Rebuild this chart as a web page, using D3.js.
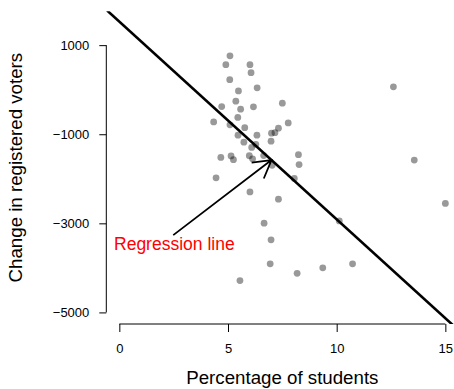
<!DOCTYPE html>
<meta charset="utf-8">

<!-- Load d3.js -->
<script src="https://d3js.org/d3.v7.min.js"></script>

<style>
  body { margin: 0; background: #fff; }
  text { font-family: "Liberation Sans", Arial, Helvetica, sans-serif; }
</style>

<!-- Create a div where the graph will take place -->
<div id="my_dataviz"></div>
<script>

// data: percentage of students vs change in registered voters
var students = [5.09, 4.90, 6.01, 6.06, 5.08, 5.48, 6.34, 5.36, 4.71, 5.58,
                6.17, 7.50, 5.45, 4.34, 5.09, 5.77, 7.77, 7.32, 7.00, 7.16,
                5.46, 6.33, 6.98, 5.73, 6.28, 6.09, 4.67, 5.14, 5.25, 5.98,
                6.13, 6.64, 7.03, 8.24, 8.27, 4.45, 8.05, 6.01, 7.32, 6.66,
                6.98, 10.12, 6.94, 8.18, 9.36, 10.73, 5.55, 12.61, 13.57, 15.00]
var voters = [760, 562, 562, 383, 226, -28, 42, -257, -380, -437,
              -385, -302, -623, -724, -789, -852, -746, -863, -975, -964,
              -1020, -1020, -1155, -1177, -1227, -1296, -1521, -1487, -1570, -1483,
              -1552, -1480, -1698, -1458, -1682, -1979, -1992, -2295, -2457, -2996,
              -3370, -2946, -3909, -4122, -3999, -3909, -4286, 64, -1581, -2553]

// fitted line: voters = intercept + slope * students
var intercept = 1528
var slope = -443.9

// axis ticks
var xTicks = [0, 5, 10, 15]
var yTicks = [-5000, -3000, -1000, 1000]

// annotation: label position and arrow (from, to) in data units
var labelText = "Regression line"
var labelAt = [2.53, -3450]
var arrowFrom = [2.48, -3265]
var arrowTo = [7.0, intercept + slope * 7.0]

// set the dimensions of the graph
var width = 454
var height = 389

// limits of the plotting region (R style, 4% padding)
var xlim = [-0.6, 15.6]
var ylim = [-5260, 1760]

var svg = d3.select("#my_dataviz")
  .append("svg")
    .attr("width", width)
    .attr("height", height)

var x = d3.scaleLinear()
  .domain(xlim)
  .range([106.3, 458.4])

var y = d3.scaleLinear()
  .domain(ylim)
  .range([324, 11.3])

// clip path for the plot region
svg.append("clipPath")
    .attr("id", "plotclip")
  .append("rect")
    .attr("x", x(xlim[0]))
    .attr("y", y(ylim[1]))
    .attr("width", x(xlim[1]) - x(xlim[0]))
    .attr("height", y(ylim[0]) - y(ylim[1]))

// X axis
var xAxis = svg.append("g")
    .attr("transform", "translate(0," + y(ylim[0]) + ")")
    .call(d3.axisBottom(x).tickValues(xTicks).tickSize(8).tickPadding(12).tickSizeOuter(0))
xAxis.select(".domain").remove()
xAxis.append("line")
    .attr("x1", x(xTicks[0]))
    .attr("x2", x(xTicks[xTicks.length - 1]))
    .attr("stroke", "black")
xAxis.selectAll("text").style("font-size", "13px").attr("fill", "black")

// Y axis
var yAxis = svg.append("g")
    .attr("transform", "translate(" + x(xlim[0]) + ",0)")
    .call(d3.axisLeft(y).tickValues(yTicks).tickSize(7).tickPadding(10).tickSizeOuter(0)
      .tickFormat(function(d){ return d < 0 ? "\u2212" + Math.abs(d) : d }))
yAxis.select(".domain").remove()
yAxis.append("line")
    .attr("y1", y(yTicks[0]))
    .attr("y2", y(yTicks[yTicks.length - 1]))
    .attr("stroke", "black")
yAxis.selectAll("text").style("font-size", "13px").attr("fill", "black")

// axis titles
svg.append("text")
    .attr("x", (x(xlim[0]) + x(xlim[1])) / 2)
    .attr("y", 384)
    .attr("text-anchor", "middle")
    .style("font-size", "18.7px")
    .text("Percentage of students")

svg.append("text")
    .attr("transform", "translate(22," + (y(ylim[0]) + y(ylim[1])) / 2 + ") rotate(-90)")
    .attr("text-anchor", "middle")
    .style("font-size", "18.7px")
    .text("Change in registered voters")

// points
svg.append("g")
  .selectAll("circle")
  .data(students)
  .enter()
  .append("circle")
    .attr("cx", function(d){ return x(d) })
    .attr("cy", function(d, i){ return y(voters[i]) })
    .attr("r", 3.4)
    .style("fill", "black")
    .style("fill-opacity", 0.4)

// regression line, clipped to the plot region
svg.append("line")
    .attr("clip-path", "url(#plotclip)")
    .attr("x1", x(xlim[0]))
    .attr("y1", y(intercept + slope * xlim[0]))
    .attr("x2", x(xlim[1]))
    .attr("y2", y(intercept + slope * xlim[1]))
    .attr("stroke", "black")
    .attr("stroke-width", 2.6)

// arrow pointing at the line
var ax0 = x(arrowFrom[0]), ay0 = y(arrowFrom[1])
var ax1 = x(arrowTo[0]), ay1 = y(arrowTo[1])
var ang = Math.atan2(ay0 - ay1, ax0 - ax1)
var headLen = 20, headAng = Math.PI / 6
var arrowPath = d3.path()
arrowPath.moveTo(ax0, ay0)
arrowPath.lineTo(ax1, ay1)
arrowPath.moveTo(ax1 + headLen * Math.cos(ang + headAng), ay1 + headLen * Math.sin(ang + headAng))
arrowPath.lineTo(ax1, ay1)
arrowPath.lineTo(ax1 + headLen * Math.cos(ang - headAng), ay1 + headLen * Math.sin(ang - headAng))

svg.append("path")
    .attr("d", arrowPath.toString())
    .attr("fill", "none")
    .attr("stroke", "black")
    .attr("stroke-width", 1.8)

// label
svg.append("text")
    .attr("x", x(labelAt[0]))
    .attr("y", y(labelAt[1]))
    .attr("dy", "0.35em")
    .attr("text-anchor", "middle")
    .style("font-size", "17.5px")
    .style("fill", "#ff0000")
    .text(labelText)

</script>
